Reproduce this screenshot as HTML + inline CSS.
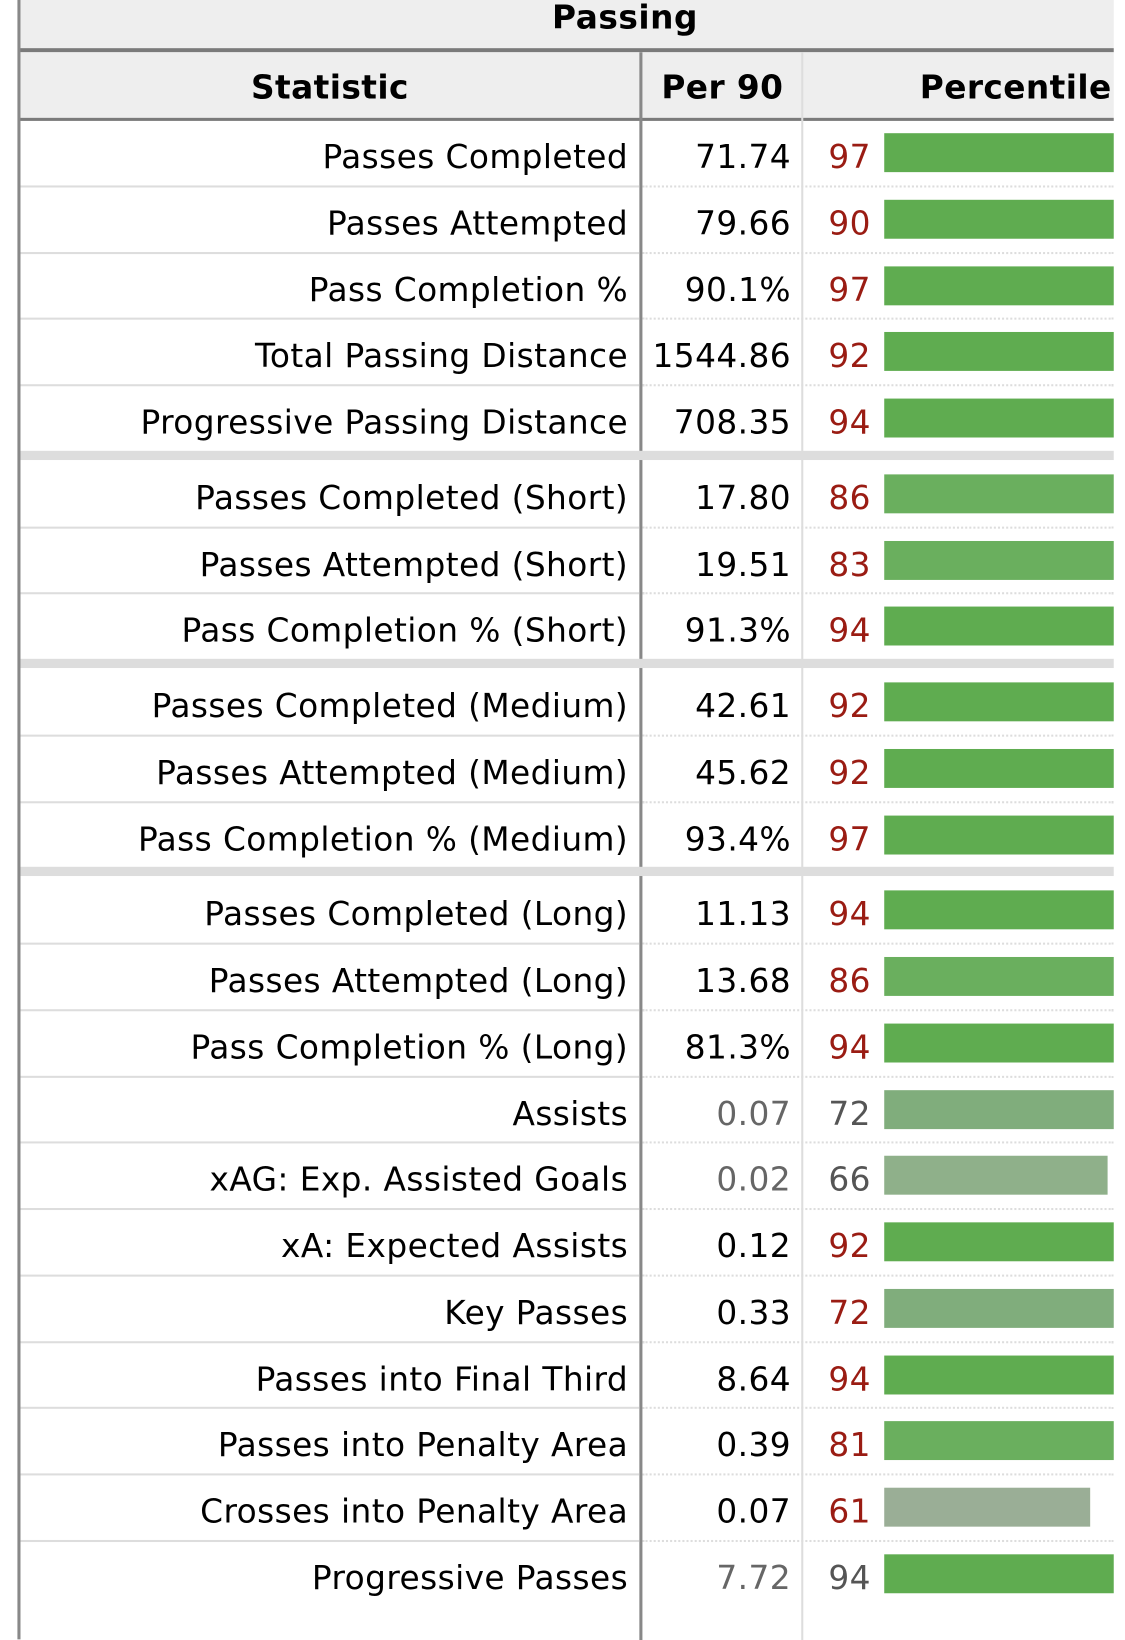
<!DOCTYPE html>
<html><head><meta charset="utf-8"><style>
body{margin:0;width:1125px;height:1598px;background:#fff;position:relative;overflow:hidden;font-family:"DejaVu Sans","Liberation Sans",sans-serif;}
#wrap{position:absolute;left:0;top:0;width:1098px;height:1560px;transform:scale(1.0246);transform-origin:0 0;}
.a{position:absolute;}
.t{position:absolute;white-space:nowrap;font-size:32px;letter-spacing:0.4px;line-height:64px;}
</style></head><body><div id="wrap">
<div class="a" style="left:17px;top:0;width:3px;height:1600px;background:#888"></div>
<div class="a" style="left:20px;top:0;width:1067px;height:47px;background:#eee"></div>
<div class="t" style="left:20px;width:1180px;text-align:center;top:-15px;font-weight:bold;font-size:32px;letter-spacing:0.5px">Passing</div>
<div class="a" style="left:20px;top:47px;width:1067px;height:4px;background:#7a7a7a"></div>
<div class="a" style="left:20px;top:51px;width:1067px;height:64px;background:#eee"></div>
<div class="t" style="left:20px;width:604px;text-align:center;top:53px;font-weight:bold;font-size:32px">Statistic</div>
<div class="t" style="left:627px;width:156px;text-align:center;top:53px;font-weight:bold;font-size:32px">Per 90</div>
<div class="t" style="left:785px;width:300px;text-align:right;top:53px;font-weight:bold;font-size:32px">Percentile</div>
<div class="a" style="left:20px;top:115px;width:1067px;height:3px;background:#7a7a7a"></div>
<div class="a" style="left:624px;top:51px;width:3px;height:1550px;background:#888"></div>
<div class="a" style="left:782px;top:51px;width:2px;height:1550px;background:#ddd"></div>
<div id="rows"></div>
</div>
<script>
const stats=["Passes Completed","Passes Attempted","Pass Completion %","Total Passing Distance","Progressive Passing Distance","Passes Completed (Short)","Passes Attempted (Short)","Pass Completion % (Short)","Passes Completed (Medium)","Passes Attempted (Medium)","Pass Completion % (Medium)","Passes Completed (Long)","Passes Attempted (Long)","Pass Completion % (Long)","Assists","xAG: Exp. Assisted Goals","xA: Expected Assists","Key Passes","Passes into Final Third","Passes into Penalty Area","Crosses into Penalty Area","Progressive Passes"];
const per90=["71.74","79.66","90.1%","1544.86","708.35","17.80","19.51","91.3%","42.61","45.62","93.4%","11.13","13.68","81.3%","0.07","0.02","0.12","0.33","8.64","0.39","0.07","7.72"];
const percentiles=[97,90,97,92,94,86,83,94,92,92,97,94,86,94,72,66,92,72,94,81,61,94];
const grayPer90=[14,15,21];
const grayPct=[14,15,21];
const groupBreaks=[5,8,11];
const root=document.getElementById('rows');
function barColor(p){if(p>=88)return'#5fac50';if(p>=80)return'#6aaf5e';if(p>=70)return'#80ad7c';if(p>=64)return'#8fb08a';return'#9aae96';}
function barW(p){return Math.min(p*3.3,224);}
let y=118;
stats.forEach((s,i)=>{
  if(groupBreaks.includes(i)){
    const g=document.createElement('div');g.className='a';
    
    
    g.style.cssText=`left:20px;top:${y-2}px;width:1067px;height:9px;background:#ddd`;
    root.appendChild(g);y+=9;
  } else if(i>0){
    const l=document.createElement('div');l.className='a';
    
    
    l.style.cssText=`left:20px;top:${y-2}px;width:604px;height:2px;background:#ddd`;
    root.appendChild(l);
    const d=document.createElement('div');d.className='a';
    
    
    d.style.cssText=`left:627px;top:${y-2}px;width:460px;height:0;border-top:2px dotted #ddd`;
    root.appendChild(d);
  }
  const a=document.createElement('div');a.className='t';
  
  
  a.style.cssText=`left:0px;width:613px;text-align:right;top:${y+3}px`;a.textContent=s;root.appendChild(a);
  const b=document.createElement('div');b.className='t';
  
  
  b.style.cssText=`left:600px;width:172px;text-align:right;top:${y+3}px;color:${grayPer90.includes(i)?'#666':'#000'}`;b.textContent=per90[i];root.appendChild(b);
  const c=document.createElement('div');c.className='t';
  
  
  c.style.cssText=`left:785px;width:65px;text-align:right;top:${y+3}px;color:${grayPct.includes(i)?'#555':'#9a1c13'}`;c.textContent=percentiles[i];root.appendChild(c);
  const r=document.createElement('div');r.className='a';
  
  
  r.style.cssText=`left:863px;top:${y+12}px;height:38px;width:${barW(percentiles[i])}px;background:${barColor(percentiles[i])}`;
  root.appendChild(r);
  y+=64.75;
});
</script>
</body></html>
